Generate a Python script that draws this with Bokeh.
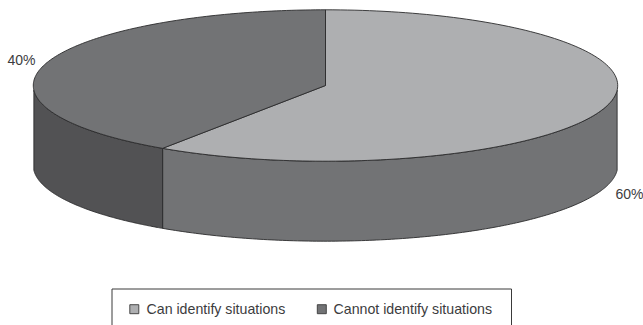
import numpy as np
from bokeh.core.properties import value
from bokeh.embed import file_html
from bokeh.models import ColumnDataSource, Range1d
from bokeh.plotting import figure
from bokeh.resources import INLINE

# Survey result
categories = ["Can identify situations", "Cannot identify situations"]
shares = [60, 40]
share_labels = ["60%", "40%"]

W, H = 643, 325
CX, CY, RX, RY = 325.0, 85.0, 292.2, 75.7
DEPTH = 80.0
TOP_COLORS = ["#aeafb1", "#727375"]
SIDE_COLORS = ["#727375", "#525254"]
EDGE = "#2b2b2d"
TEXT = "#3c3c3e"
FONT = value("Liberation Sans")


def project(share_pos):
    """Map a cumulative share (clockwise from 12 o'clock) to the tilted disc's angle."""
    theta = np.radians(np.asarray(share_pos, dtype=float) * 3.6)
    return theta + np.radians(3.6) * np.sin(theta)


def rim(start, stop, n=160, dy=0.0):
    t = project(np.linspace(start, stop, n))
    return CX + RX * np.sin(t), CY - RY * np.cos(t) + dy


p = figure(width=W, height=H, output_backend="svg", toolbar_location=None,
           x_range=Range1d(0, W), y_range=Range1d(H, 0), min_border=0,
           outline_line_color=None, background_fill_color="white", border_fill_color="white")
p.axis.visible = False
p.grid.visible = False

split = shares[0]

# Wall of the disc: only the part below the widest points is visible
side_spans = [(25, split), (split, 75)]
for (a, b), colour in zip(side_spans, SIDE_COLORS):
    x_top, y_top = rim(a, b)
    x_bot, y_bot = rim(a, b, dy=DEPTH)
    p.patch(np.r_[x_top, x_bot[::-1]], np.r_[y_top, y_bot[::-1]],
            fill_color=colour, line_color=EDGE, line_width=0.9)

# Top face, one sector per share
top_spans = [(0, split), (split, 100)]
for (a, b), colour in zip(top_spans, TOP_COLORS):
    x, y = rim(a, b)
    p.patch(np.r_[CX, x], np.r_[CY, y], fill_color=colour, line_color=EDGE, line_width=0.9)

# Share labels beside the disc
p.text(x=[615, 7], y=[193, 59], text=share_labels, text_font=FONT, text_font_size="14px",
       text_color=TEXT, text_baseline="middle", text_align="left")

# Legend frame runs off the bottom of the page
p.quad(left=[111.5], right=[511], top=[288.5], bottom=[H + 6], fill_color="white",
       line_color="#3a3a3a", line_width=1)
legend = ColumnDataSource(dict(sw=[133.8, 321.3], y=[308.7, 308.7], tx=[146, 333],
                               label=categories, colour=TOP_COLORS))
p.rect(x="sw", y="y", width=9, height=9, source=legend, fill_color="colour",
       line_color="#3a3a3a", line_width=0.9)
p.text(x="tx", y="y", text="label", source=legend, text_font=FONT, text_font_size="14.2px",
       text_color=TEXT, text_baseline="middle")

open("out.html", "w").write(file_html(p, INLINE))
